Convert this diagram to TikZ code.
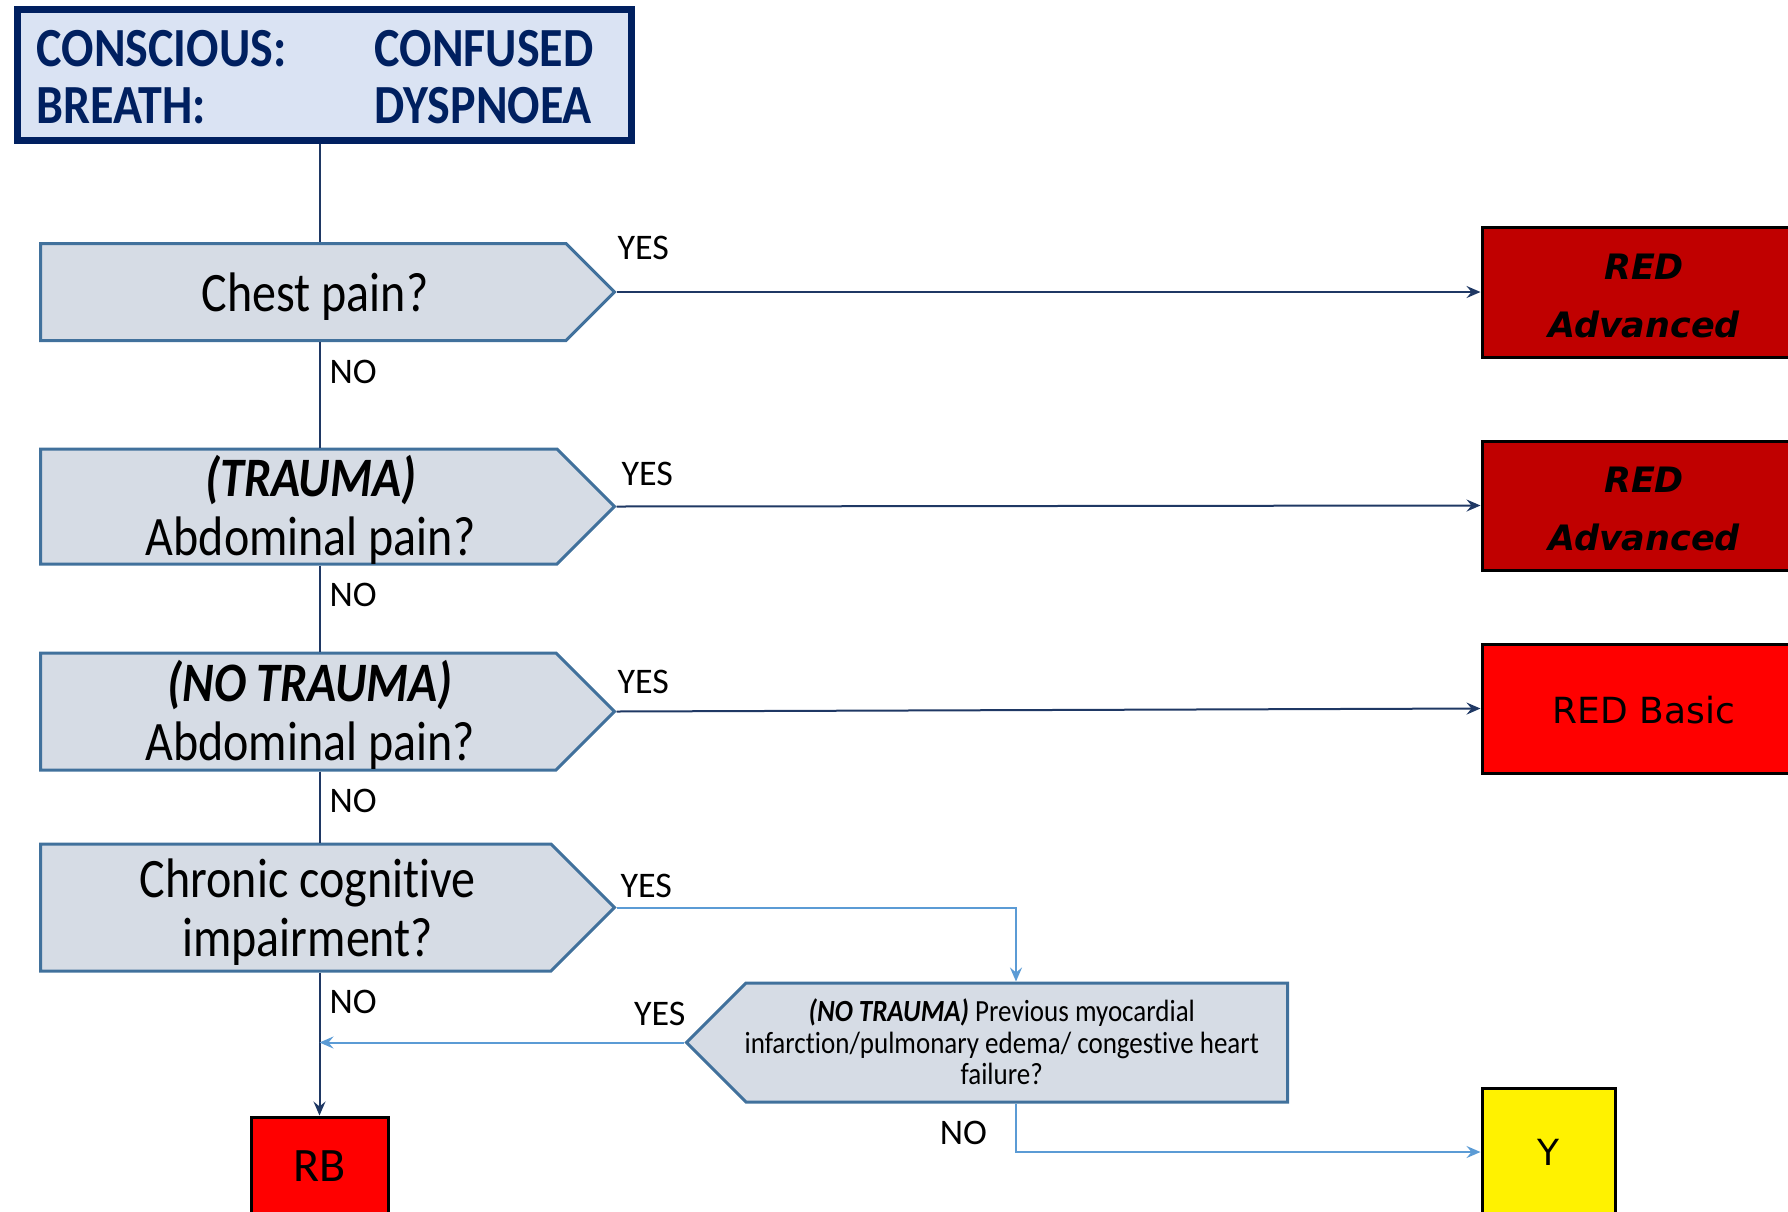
\documentclass[tikz,border=0pt]{standalone}
\usepackage{graphicx}
\usepackage{fontspec}
\setmainfont{Carlito}[Ligatures=NoCommon]
\newfontfamily\dejavu{DejaVu Sans}
\usetikzlibrary{shapes.symbols,arrows.meta,calc}
\definecolor{navy}{HTML}{002060}
\definecolor{darknavy}{HTML}{1F3864}
\definecolor{qfill}{HTML}{D6DCE5}
\definecolor{qline}{HTML}{41719C}
\definecolor{hfill}{HTML}{DAE3F3}
\definecolor{lblue}{HTML}{5B9BD5}
\definecolor{dred}{HTML}{C00000}
% box texts are a bit taller than wide
\newcommand\tall[2][1.16]{\scalebox{1}[#1]{\begin{tabular}{@{}c@{}}#2\end{tabular}}}

\begin{document}
\begin{tikzpicture}[x=1pt,y=-1pt,
    question/.style={signal, signal to=east, signal pointer angle=90, draw=qline, fill=qfill,
      line width=3pt, inner sep=0pt, anchor=west, minimum width=574pt},
    qtext/.style={inner sep=0pt, xshift=12pt, yshift=-8pt, font=\fontsize{48}{51}\selectfont},
    outcome/.style={draw=black, line width=3pt, align=center, inner sep=0pt},
    lbl/.style={font=\fontsize{36}{40}\selectfont, inner sep=0pt},
    nolbl/.style={lbl, pos=0, anchor=north west, xshift=9pt, yshift=-17pt},
    yeslbl/.style={lbl, pos=0, anchor=base west},
    main/.style={draw=darknavy, line width=2pt},
    mainarrow/.style={main, -{Stealth[length=14pt,width=12pt,inset=5pt]}},
    side/.style={draw=lblue, line width=2pt, -{Stealth[length=14pt,width=12pt,inset=5pt]}}]
  \useasboundingbox (0,0) rectangle (1788,1211);
  \clip (0,0) rectangle (1788,1211);

  % header
  \node[draw=navy, fill=hfill, line width=7pt, minimum width=614pt, minimum height=131pt,
    label={[inner sep=0pt, xshift=-9.5pt, yshift=-8.5pt, text=navy, font=\bfseries\fontsize{48}{50}\selectfont]center:
      {\scalebox{1}[1.15]{\begin{tabular}{@{}p{338pt}@{}l@{}}CONSCIOUS: & CONFUSED\\BREATH: & DYSPNOEA\end{tabular}}}}]
    (head) at (324.5,75) {};

  % questions
  \node[question, minimum height=97pt, label={[qtext]center:{\tall{Chest pain?}}}] (chest) at (39,292) {};
  \node[question, minimum height=115pt,
    label={[qtext]center:{\tall{\textbf{\textit{(TRAUMA)}}\\Abdominal pain?}}}] (trauma) at (39,506.5) {};
  \node[question, minimum height=117pt,
    label={[qtext]center:{\tall{\textbf{\textit{(NO TRAUMA)}}\\Abdominal pain?}}}] (notrauma) at (39,711.5) {};
  \node[question, minimum height=127pt,
    label={[qtext]center:{\tall{Chronic cognitive\\impairment?}}}] (chronic) at (39,907.5) {};
  \node[question, signal to=west, anchor=east, minimum width=601pt, minimum height=119pt,
    label={[qtext, xshift=-27pt, yshift=4pt, font=\fontsize{27}{27.5}\selectfont]center:
      {\tall[1.14]{\textbf{\textit{(NO TRAUMA)}} Previous myocardial\\infarction/pulmonary edema/ congestive heart\\failure?}}}]
    (mi) at (1289,1042.5) {};

  % outcomes
  \node[outcome, fill=dred, minimum width=324pt, minimum height=130pt,
    font=\dejavu\bfseries\itshape\fontsize{35}{58}\selectfont] (red1) at (1644,292) {\rule{0pt}{33pt}RED\\Advanced};
  \node[outcome, fill=dred, minimum width=324pt, minimum height=129pt,
    font=\dejavu\bfseries\itshape\fontsize{35}{58}\selectfont] (red2) at (1644,505.5) {\rule{0pt}{33pt}RED\\Advanced};
  \node[outcome, fill=red, minimum width=324pt, minimum height=129pt,
    font=\dejavu\fontsize{36}{40}\selectfont] (red3) at (1644,708.5) {\rule{0pt}{30pt}RED Basic};
  \node[outcome, fill=red, minimum width=137pt, minimum height=98pt,
    font=\fontsize{48}{50}\selectfont] (rb) at (319.5,1166) {RB};
  \node[outcome, fill=yellow, minimum width=133pt, minimum height=128pt,
    font=\dejavu\fontsize{36}{40}\selectfont] (ybox) at (1548.5,1152) {Y};

  % trunk
  \draw[main] (rb.north |- head.south) -- (rb.north |- chest.north);
  \draw[main] (rb.north |- chest.south) -- node[nolbl] {NO} (rb.north |- trauma.north);
  \draw[main] (rb.north |- trauma.south) -- node[nolbl] {NO} (rb.north |- notrauma.north);
  \draw[main] (rb.north |- notrauma.south) -- node[nolbl] {NO} (rb.north |- chronic.north);
  \draw[mainarrow] (rb.north |- chronic.south) -- node[nolbl] {NO} (rb.north);

  % yes branches
  \draw[mainarrow] (chest.east) -- node[yeslbl, yshift=33pt] {YES} (red1.west);
  \draw[mainarrow] (trauma.east) -- node[yeslbl, xshift=4pt, yshift=21pt] {YES} (red2.west);
  \draw[mainarrow] (notrauma.east) -- node[yeslbl, yshift=18pt] {YES} (red3.west);
  \draw[side] (chronic.east) -| node[yeslbl, xshift=3pt, yshift=10pt] {YES} ($(mi.north -| mi.east)+(-273,0)$);
  \draw[side] (mi.west) -- node[lbl, pos=0, anchor=base east, xshift=2pt, yshift=17pt] {YES} (mi.west -| rb.north);
  \draw[side] ($(mi.south -| mi.east)+(-273,0)$) |- node[lbl, pos=0.5, anchor=base east, xshift=-28pt, yshift=8pt] {NO} (ybox.west);
\end{tikzpicture}
\end{document}
